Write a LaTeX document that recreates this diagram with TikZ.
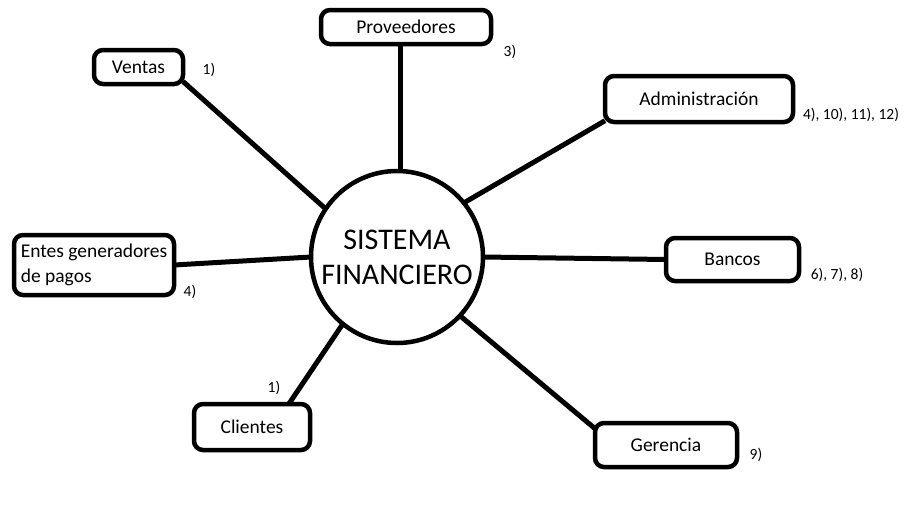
\documentclass[tikz,border=0pt]{standalone}
\usepackage{fontspec}
\setmainfont{Carlito}
\begin{document}
\begin{tikzpicture}[x=1pt,y=-1pt,
  boxst/.style={draw=black, line width=4.5pt, rounded corners=9pt, inner sep=0pt, outer sep=0pt, font=\fontsize{19.5}{25}\selectfont},
  conn/.style={draw=black, line width=5pt},
  lbl/.style={inner sep=0pt, font=\fontsize{15.5}{18}\selectfont}]
\useasboundingbox[fill=white] (0,0) rectangle (904,509);
\node[draw=black, line width=4.5pt, circle, minimum size=172pt, inner sep=0pt, outer sep=0pt, align=center, font=\fontsize{30}{35}\selectfont] (c) at (397,257) {SISTEMA\\FINANCIERO};
\node[boxst, minimum width=170pt, minimum height=34pt] (prov) at (406,27) {Proveedores\hspace{10pt}};
\node[boxst, minimum width=89pt, minimum height=34pt] (ventas) at (138.5,67) {Ventas\hspace{7pt}};
\node[boxst, minimum width=188pt, minimum height=46pt] (admin) at (699,99) {Administración\hspace{20pt}};
\node[boxst, minimum width=160pt, minimum height=60pt, align=left] (entes) at (94,265) {Entes generadores\\de pagos};
\node[boxst, minimum width=133pt, minimum height=43pt] (bancos) at (732.5,259.5) {Bancos\hspace{10pt}};
\node[boxst, minimum width=116pt, minimum height=46pt] (clientes) at (252,427) {Clientes\hspace{10pt}};
\node[boxst, minimum width=142pt, minimum height=44pt] (gerencia) at (666,445) {Gerencia\hspace{28pt}};
\draw[conn] (ventas.-18) -- (c.146);
\draw[conn] (c.88) -- (c.88 |- prov.south);
\draw[conn] (admin.193) -- (c.39);
\draw[conn] (entes.east) -- (c.180);
\draw[conn] (c.0) -- (bancos.west);
\draw[conn] (clientes.32) -- (c.231);
\draw[conn] (gerencia.167) -- (c.317);
\node[lbl] (l1) at (209,70) {1)};
\node[lbl] (l3) at (510,52) {3)};
\node[lbl] (l4a) at (851,115) {4), 10), 11), 12)};
\node[lbl] (l4b) at (190,292) {4)};
\node[lbl] (l6) at (837,275) {6), 7), 8)};
\node[lbl] (l1b) at (274,388) {1)};
\node[lbl] (l9) at (756,455) {9)};
\end{tikzpicture}
\end{document}
